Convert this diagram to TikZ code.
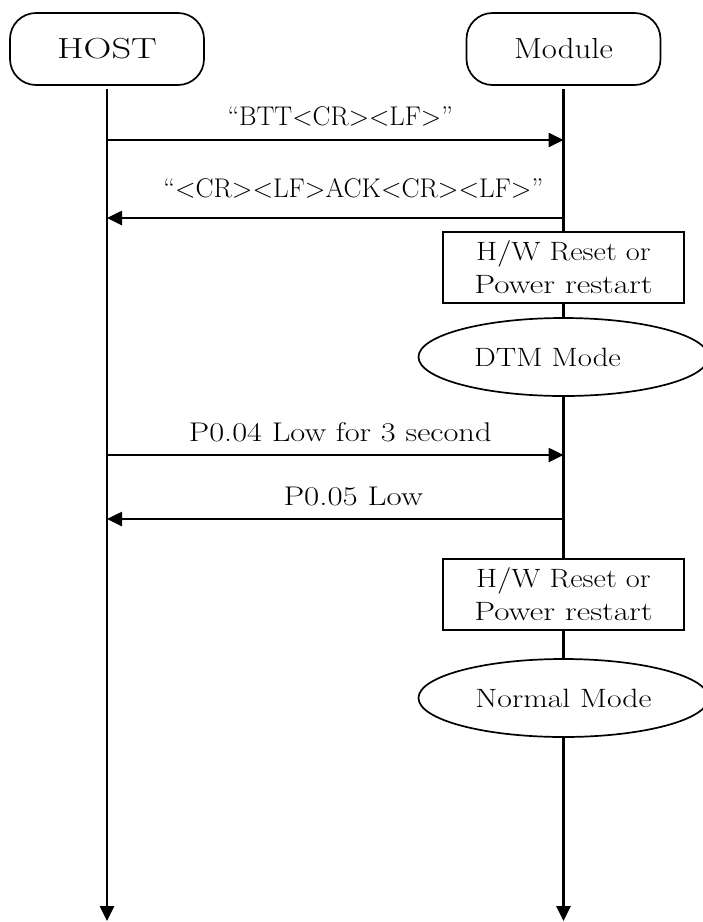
\documentclass[tikz,border=0pt]{standalone}
\usetikzlibrary{shapes.geometric,arrows.meta,backgrounds}
\newcommand{\hs}[2]{\scalebox{#1}[1]{#2}}
\begin{document}
\begin{tikzpicture}[x=1pt,y=-1pt,
  lane/.style={draw,line width=1.7pt,rounded corners=26pt,minimum width=194pt,minimum height=72pt,font=\fontsize{29}{33}\selectfont},
  msg/.style={line width=2.6pt,-{Triangle[length=15pt,width=14pt]}},
  lbl/.style={font=\fontsize{27}{33}\selectfont,inner sep=0pt,anchor=base},
  resetbox/.style={draw,fill=white,line width=1.7pt,minimum width=241pt,minimum height=71pt,align=center,font=\fontsize{26.5}{33}\selectfont,inner sep=0pt},
  modeell/.style={ellipse,draw,fill=white,line width=1.7pt,minimum width=290pt,minimum height=78pt,inner sep=0pt,font=\fontsize{26.5}{33}\selectfont}]
\useasboundingbox (0,0) rectangle (703,922);
\clip (0,0) rectangle (703,922);
\node[lane] (host) at (107,49) {\hs{1.33}{HOST}};
\node[lane] (mod) at (563.5,49) {\hs{1.13}{Module}};
\coordinate (hend) at (107,921);
\coordinate (mend) at (563.5,921);
\node[resetbox] (r1) at (563.5,267.5) {\hs{1.15}{H/W Reset or}\\\hs{1.25}{Power restart}};
\node[modeell] (dtm) at (563.5,357) {\hs{1.16}{DTM Mode}\hspace*{32pt}};
\node[resetbox] (r2) at (563.5,594.5) {\hs{1.15}{H/W Reset or}\\\hs{1.25}{Power restart}};
\node[modeell] (norm) at (563.5,698) {\hs{1.2}{Normal Mode}};
\begin{scope}[on background layer]
\draw[msg] ([yshift=-3pt]host.south) -- (hend);
\draw[msg] ([yshift=-3pt]mod.south) -- (mend);
\end{scope}
\coordinate (h1) at (107,140); \coordinate (m1) at (563.5,140);
\coordinate (h2) at (107,218); \coordinate (m2) at (563.5,218);
\coordinate (h3) at (107,455); \coordinate (m3) at (563.5,455);
\coordinate (h4) at (107,519); \coordinate (m4) at (563.5,519);
\draw[msg] (h1) -- node[lbl,yshift=15pt,xshift=5pt] {\hs{0.99}{``BTT<CR><LF>''}} (m1);
\draw[msg] (m2) -- node[lbl,yshift=21pt,xshift=18pt] {\hs{1.0}{``<CR><LF>ACK<CR><LF>''}} (h2);
\draw[msg] (h3) -- node[lbl,yshift=14pt,xshift=5pt] {\hs{1.2}{P0.04 Low for 3 second}} (m3);
\draw[msg] (m4) -- node[lbl,yshift=14pt,xshift=18pt] {\hs{1.22}{P0.05 Low}} (h4);
\end{tikzpicture}
\end{document}
